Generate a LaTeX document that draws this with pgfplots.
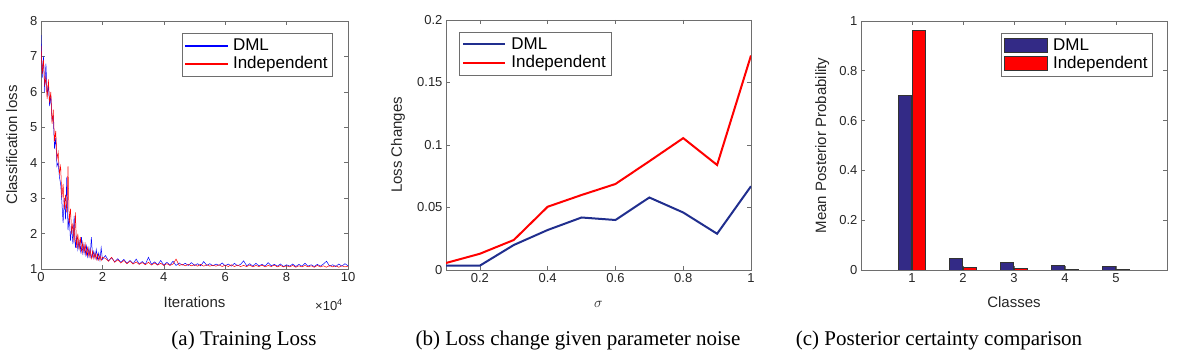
\documentclass[border=0pt]{standalone}
\usepackage{fontspec}
\setmainfont{Liberation Sans}
\newfontfamily\capfont{Liberation Serif}
\usepackage{pgfplots}
\pgfplotsset{compat=1.18}
\definecolor{tk}{RGB}{38,38,38}
\definecolor{ax}{RGB}{110,110,110}
\definecolor{pblue}{RGB}{0,0,255}
\definecolor{pred}{RGB}{255,0,0}
\definecolor{lblue}{RGB}{32,46,142}
\definecolor{bnavy}{RGB}{51,42,134}
\pgfplotsset{
  mystyle/.style={
    scale only axis,
    width=306pt, height=249pt,
    axis line style={ax, line width=0.6pt},
    every tick/.style={ax, line width=0.6pt},
    major tick length=4pt,
    tick align=inside,
    tick label style={font=\fontsize{13}{15}\selectfont, text=tk},
    label style={font=\fontsize{15}{17}\selectfont, text=tk},
    /pgf/number format/assume math mode=true,
    /pgf/number format/fixed,
    scaled ticks=false,
    legend style={font=\fontsize{17}{19}\selectfont, draw=ax, line width=0.8pt, inner xsep=3pt, inner ysep=3.5pt, row sep=0.5pt, legend cell align=left, text=black},
    legend cell align=left,
  }
}
\begin{document}
\begin{tikzpicture}[x=1pt,y=1pt]
\path[use as bounding box] (0pt,0pt) rectangle (1181pt,361pt);
% ---------------- (a)
\begin{axis}[mystyle, at={(41pt,92pt)}, anchor=south west, width=307pt, height=248pt,
  xmin=0, xmax=10, ymin=1, ymax=8,
  xtick={0,2,4,6,8,10}, ytick={1,2,3,4,5,6,7,8},
  xlabel={Iterations}, ylabel={Classification loss},
  xlabel style={at={(axis description cs:0.5,-0.133)}, anchor=center},
  ylabel style={at={(axis description cs:-0.095,0.5)}, anchor=center},
  legend style={at={(axis description cs:1,1)}, anchor=north east, xshift=-15pt, yshift=-12pt},
]
\addlegendimage{legend image code/.code={\fill[pblue] (0pt,-0.55pt) rectangle (42pt,0.55pt);}}
\addlegendentry{\hspace{3pt}DML}
\addlegendimage{legend image code/.code={\fill[pred] (0pt,-0.55pt) rectangle (42pt,0.55pt);}}
\addlegendentry{\hspace{3pt}Independent}
\addplot[pblue, line width=0.5pt, forget plot] coordinates {
(0.00,7.6)(0.04,6.4)(0.08,7.0)(0.12,6.0)(0.16,6.8)(0.20,5.9)(0.24,6.2)(0.28,5.6)(0.32,5.9)(0.36,5.2)
(0.40,5.3)(0.44,4.4)(0.48,4.7)(0.52,3.9)(0.56,4.0)(0.60,3.6)(0.64,3.4)(0.68,2.9)(0.72,2.3)(0.76,3.0)
(0.80,2.4)(0.84,3.6)(0.88,2.1)(0.92,2.5)(0.96,1.8)(1.00,2.2)(1.04,1.7)(1.08,2.5)(1.12,1.6)(1.16,1.9)
(1.20,1.55)(1.24,1.8)(1.28,1.5)(1.32,1.9)(1.36,1.45)(1.40,1.7)(1.44,1.4)(1.48,1.65)(1.52,1.35)(1.56,1.6)
(1.60,1.3)(1.64,1.9)(1.68,1.35)(1.72,1.5)(1.76,1.3)(1.80,1.55)(1.84,1.28)(1.88,1.45)(1.92,1.25)(1.96,1.6)
(2.00,1.27)
(2.1,1.38)(2.2,1.23)(2.3,1.32)(2.4,1.20)(2.5,1.29)(2.6,1.19)(2.7,1.27)(2.8,1.16)(2.9,1.24)(3.0,1.15)
(3.1,1.28)(3.2,1.14)(3.3,1.21)(3.4,1.13)(3.5,1.33)(3.6,1.13)(3.7,1.20)(3.8,1.12)(3.9,1.24)(4.0,1.11)
(4.1,1.19)(4.2,1.11)(4.3,1.22)(4.4,1.10)(4.5,1.17)(4.6,1.11)(4.7,1.16)(4.8,1.10)(4.9,1.18)(5.0,1.10)
(5.1,1.15)(5.2,1.09)(5.3,1.21)(5.4,1.10)(5.5,1.15)(5.6,1.09)(5.7,1.14)(5.8,1.10)(5.9,1.17)(6.0,1.09)
(6.1,1.14)(6.2,1.08)(6.3,1.16)(6.4,1.09)(6.5,1.13)(6.6,1.23)(6.7,1.09)(6.8,1.15)(6.9,1.08)(7.0,1.16)
(7.1,1.09)(7.2,1.13)(7.3,1.08)(7.4,1.18)(7.5,1.09)(7.6,1.13)(7.7,1.08)(7.8,1.14)(7.9,1.07)(8.0,1.12)
(8.1,1.08)(8.2,1.14)(8.3,1.07)(8.4,1.13)(8.5,1.08)(8.6,1.16)(8.7,1.08)(8.8,1.12)(8.9,1.07)(9.0,1.13)
(9.1,1.08)(9.2,1.14)(9.3,1.22)(9.4,1.08)(9.5,1.12)(9.6,1.07)(9.7,1.14)(9.8,1.08)(9.9,1.15)(10.0,1.09)
};
\addplot[pred, line width=0.5pt, forget plot] coordinates {
(0.00,7.3)(0.04,6.5)(0.08,6.9)(0.12,6.2)(0.16,6.4)(0.20,5.8)(0.24,6.35)(0.28,5.7)(0.32,6.0)(0.36,5.1)
(0.40,5.5)(0.44,4.6)(0.48,4.9)(0.52,4.1)(0.56,4.3)(0.60,3.7)(0.64,3.9)(0.68,3.0)(0.72,3.4)(0.76,2.7)
(0.80,3.1)(0.84,2.6)(0.88,3.9)(0.92,2.3)(0.96,2.7)(1.00,2.0)(1.04,2.3)(1.08,1.75)(1.12,2.6)(1.16,1.6)
(1.20,2.0)(1.24,1.55)(1.28,1.9)(1.32,1.5)(1.36,1.75)(1.40,1.45)(1.44,1.7)(1.48,1.4)(1.52,1.6)(1.56,1.35)
(1.60,1.55)(1.64,1.3)(1.68,1.5)(1.72,1.3)(1.76,1.45)(1.80,1.27)(1.84,1.42)(1.88,1.25)(1.92,1.38)(1.96,1.24)
(2.00,1.33)
(2.1,1.30)(2.2,1.22)(2.3,1.33)(2.4,1.19)(2.5,1.26)(2.6,1.17)(2.7,1.24)(2.8,1.15)(2.9,1.22)(3.0,1.14)
(3.1,1.20)(3.2,1.13)(3.3,1.18)(3.4,1.12)(3.5,1.19)(3.6,1.11)(3.7,1.17)(3.8,1.11)(3.9,1.16)(4.0,1.10)
(4.1,1.15)(4.2,1.10)(4.3,1.14)(4.4,1.28)(4.5,1.10)(4.6,1.13)(4.7,1.09)(4.8,1.13)(4.9,1.09)(5.0,1.12)
(5.1,1.08)(5.2,1.13)(5.3,1.08)(5.4,1.12)(5.5,1.08)(5.6,1.11)(5.7,1.08)(5.8,1.12)(5.9,1.07)(6.0,1.11)
(6.1,1.07)(6.2,1.12)(6.3,1.07)(6.4,1.11)(6.5,1.07)(6.6,1.10)(6.7,1.07)(6.8,1.11)(6.9,1.06)(7.0,1.10)
(7.1,1.07)(7.2,1.11)(7.3,1.06)(7.4,1.10)(7.5,1.07)(7.6,1.11)(7.7,1.06)(7.8,1.10)(7.9,1.06)(8.0,1.09)
(8.1,1.06)(8.2,1.10)(8.3,1.05)(8.4,1.09)(8.5,1.06)(8.6,1.10)(8.7,1.06)(8.8,1.09)(8.9,1.05)(9.0,1.10)
(9.1,1.06)(9.2,1.09)(9.3,1.05)(9.4,1.10)(9.5,1.06)(9.6,1.09)(9.7,1.05)(9.8,1.09)(9.9,1.06)(10.0,1.08)
};
\end{axis}
\node[font=\fontsize{13}{15}\selectfont, text=tk] at (329pt,56pt) {×10\textsuperscript{4}};
% ---------------- (b)
\begin{axis}[mystyle, at={(446pt,91pt)}, anchor=south west, width=305pt, height=250pt,
  xmin=0.1, xmax=1, ymin=0, ymax=0.2,
  xtick={0.2,0.4,0.6,0.8,1}, ytick={0,0.05,0.1,0.15,0.2},
  yticklabels={0,0.05,0.1,0.15,0.2},
  xlabel={$\sigma$}, ylabel={Loss Changes},
  xlabel style={at={(axis description cs:0.5,-0.136)}, anchor=center},
  ylabel style={at={(axis description cs:-0.157,0.5)}, anchor=center},
  legend style={at={(axis description cs:0,1)}, anchor=north west, xshift=13pt, yshift=-12pt},
  legend image code/.code={\draw[#1] (0pt,0pt) -- (42pt,0pt);},
]
\addplot[lblue, line width=2pt] coordinates {
(0.1,0.0035)(0.2,0.0035)(0.3,0.020)(0.4,0.032)(0.5,0.042)(0.6,0.040)(0.7,0.058)(0.8,0.046)(0.9,0.029)(1.0,0.067)
};
\addlegendentry{\hspace{3pt}DML}
\addplot[pred, line width=2pt] coordinates {
(0.1,0.0056)(0.2,0.013)(0.3,0.024)(0.4,0.0506)(0.5,0.060)(0.6,0.0688)(0.7,0.087)(0.8,0.1055)(0.9,0.084)(1.0,0.1716)
};
\addlegendentry{\hspace{3pt}Independent}
\end{axis}
% ---------------- (c)
\begin{axis}[mystyle, at={(861pt,91pt)}, anchor=south west, width=306pt, height=249pt,
  xmin=0, xmax=6, ymin=0, ymax=1,
  xtick={1,2,3,4,5}, ytick={0,0.2,0.4,0.6,0.8,1},
  xlabel={Classes}, ylabel={Mean Posterior Probability},
  xlabel style={at={(axis description cs:0.5,-0.128)}, anchor=center},
  ylabel style={at={(axis description cs:-0.127,0.5)}, anchor=center},
  legend style={at={(axis description cs:1,1)}, anchor=north east, xshift=-14pt, yshift=-12pt},
  legend image code/.code={\draw[#1, line width=0.6pt] (0pt,-7pt) rectangle (43pt,7pt);},
]
\addplot[ybar, bar width=0.25, bar shift=-0.14, fill=bnavy, draw=black!80, line width=0.6pt] coordinates {
(1,0.70)(2,0.048)(3,0.029)(4,0.019)(5,0.013)
};
\addlegendentry{\hspace{3pt}DML}
\addplot[ybar, bar width=0.25, bar shift=0.14, fill=pred, draw=black!80, line width=0.6pt] coordinates {
(1,0.962)(2,0.011)(3,0.005)(4,0.004)(5,0.003)
};
\addlegendentry{\hspace{3pt}Independent}
\end{axis}
% ---------------- captions
\node[font=\capfont\fontsize{21}{24}\selectfont] at (244pt,21pt) {(a) Training Loss};
\node[font=\capfont\fontsize{21}{24}\selectfont] at (578pt,21pt) {(b) Loss change given parameter noise};
\node[font=\capfont\fontsize{21}{24}\selectfont] at (939pt,21pt) {(c) Posterior certainty comparison};
\end{tikzpicture}
\end{document}
